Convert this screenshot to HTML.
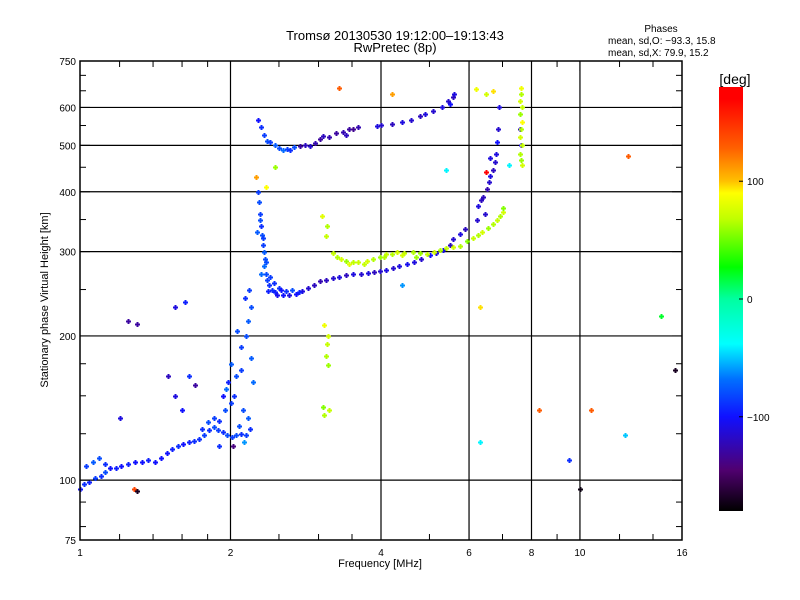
<!DOCTYPE html>
<html><head><meta charset="utf-8"><style>
body{margin:0;background:#fff}
svg{display:block;font-family:"Liberation Sans","DejaVu Sans",sans-serif}
</style></head><body>
<svg id="chart" width="800" height="600" viewBox="0 0 800 600" xmlns="http://www.w3.org/2000/svg">
<defs>
<linearGradient id="cmap" x1="0" y1="1" x2="0" y2="0">
<stop offset="0" stop-color="#000000"/>
<stop offset="0.097" stop-color="#500070"/>
<stop offset="0.222" stop-color="#1010ff"/>
<stop offset="0.311" stop-color="#0070ff"/>
<stop offset="0.394" stop-color="#00ffff"/>
<stop offset="0.5" stop-color="#00ffa0"/>
<stop offset="0.575" stop-color="#00ff00"/>
<stop offset="0.689" stop-color="#c0ff00"/>
<stop offset="0.75" stop-color="#ffff00"/>
<stop offset="0.778" stop-color="#ffc000"/>
<stop offset="0.856" stop-color="#ff6000"/>
<stop offset="0.972" stop-color="#ff0000"/>
<stop offset="1" stop-color="#ff0000"/>
</linearGradient>
</defs>
<text x="395" y="40" font-size="13" text-anchor="middle">Tromsø 20130530 19:12:00–19:13:43</text>
<text x="395" y="52" font-size="13" text-anchor="middle">RwPretec (8p)</text>
<text x="661" y="32" font-size="10" text-anchor="middle">Phases</text>
<text x="608" y="44" font-size="10">mean, sd,O: −93.3, 15.8</text>
<text x="608" y="56" font-size="10">mean, sd,X:  79.9, 15.2</text>
<g id="grid"></g>
<g id="marks"></g>
<rect x="80" y="61" width="602" height="479" fill="none" stroke="#000" stroke-width="1.5"/>
<g id="ticks"></g>
<text x="380" y="567" font-size="11" text-anchor="middle">Frequency [MHz]</text>
<text transform="translate(48,300) rotate(-90)" font-size="11" text-anchor="middle">Stationary phase Virtual Height [km]</text>
<rect x="719" y="87" width="24" height="424" fill="url(#cmap)"/>
<text x="735" y="84" font-size="14" text-anchor="middle">[deg]</text>
<g id="cbticks"></g>
</svg>
<script>
const xTicks=[1,2,4,6,8,10,16];
const yTicks=[75,100,200,300,400,500,600,750];
const xGrid=[2,4,6,8,10];
const yGrid=[100,200,300,400,500,600];
const yMinor=[80,90,125,150,175,250,350,450,550,650,700];
const cbTicks=[100,0,-100];
// O-mode trace: frequency (MHz), virtual height (km), phase (deg)
const oFreq=[1.0,1.02,1.04,1.07,1.1,1.12,1.03,1.06,1.09,1.12,1.15,1.18,1.21,1.25,1.29,1.33,1.37,1.41,1.45,1.49,1.53,1.57,1.61,1.65,1.69,1.73,1.77,1.81,1.85,1.89,1.93,1.97,2.01,2.05,2.1,2.15,
1.75,1.8,1.85,1.9,1.95,2.0,2.03,1.98,2.05,2.1,2.0,1.93,2.12,2.17,2.1,2.15,2.17,2.2,2.14,2.18,2.06,1.7,1.6,1.55,1.65,2.2,2.22,2.08,1.9,1.3,1.55,1.62,1.2,1.5,2.13,2.19,2.02,1.96,
2.27,2.28,2.29,2.3,2.31,2.32,2.33,2.34,2.33,2.35,2.37,2.39,2.42,2.45,2.3,2.36,2.4,2.44,2.5,2.38,2.26,2.29,2.32,
2.48,2.55,2.62,2.7,2.78,2.86,2.94,3.02,3.1,3.2,3.3,3.4,3.52,3.64,3.76,3.88,3.98,4.1,4.22,4.35,4.51,4.65,4.8,5.01,5.15,5.32,5.5,5.57,5.76,5.9,6.22,6.25,6.35,6.52,6.58,6.61,6.7,6.76,6.8,6.82,6.85,6.89,6.4,6.45,6.6,6.5,2.58,2.66,2.74,2.52,
2.27,2.3,2.33,2.37,2.4,2.45,2.5,2.55,2.59,2.63,2.68,2.75,2.82,2.88,2.95,3.02,3.06,3.15,3.25,3.36,3.45,3.52,3.4,3.6,3.92,4.0,4.2,4.4,4.6,4.78,4.9,5.08,5.3,5.5,5.57,5.6,5.45,7.6,7.62];
const oHeight=[96,98,99,101,102,104,107,109,111,108,106,106,107,108,109,109,110,109,111,114,116,118,119,120,121,122,124,127,129,127,126,124,123,124,125,124,
128,132,135,133,140,145,150,160,165,170,175,150,140,135,190,200,215,230,240,250,205,158,140,150,165,180,160,130,118,212,230,235,135,165,120,128,118,155,
400,380,360,340,325,310,300,290,280,270,262,255,250,247,270,285,265,258,252,248,330,350,320,
244,243,244,245,248,252,256,260,262,264,266,268,269,270,271,272,273,275,277,280,283,286,290,295,298,303,310,318,326,335,350,373,385,405,420,431,445,461,480,508,540,601,390,360,470,440,248,250,247,249,
565,545,525,510,508,500,493,490,491,488,495,498,502,498,505,515,523,520,530,533,540,541,525,545,548,552,555,559,566,575,582,590,600,610,630,640,620,540,500];
const oPhase=[-100,-90,-95,-85,-90,-80,-85,-75,-80,-90,-100,-95,-100,-95,-100,-100,-95,-100,-100,-100,-95,-90,-100,-95,-90,-90,-85,-90,-80,-85,-90,-80,-85,-80,-90,-85,
-90,-80,-85,-90,-80,-85,-90,-95,-80,-85,-75,-100,-80,-75,-85,-80,-75,-80,-90,-85,-80,-130,-100,-110,-90,-75,-70,-80,-90,-130,-110,-95,-110,-120,-60,-90,-140,-70,
-85,-80,-85,-90,-80,-85,-75,-80,-70,-80,-85,-90,-90,-95,-70,-80,-85,-90,-90,-95,-75,-80,-85,
-105,-100,-110,-100,-110,-115,-120,-125,-120,-115,-110,-120,-110,-115,-110,-120,-115,-110,-115,-110,-105,-110,-115,-100,-110,-105,-120,-115,-110,-120,-115,-110,-120,-125,-115,-110,-120,-115,-110,-100,-115,-110,-120,-115,-110,-115,-90,-80,-95,-100,
-100,-90,-85,-80,-85,-75,-80,-70,-85,-90,-80,-130,-120,-115,-125,-130,-120,-125,-130,-125,-130,-135,-120,-125,-110,-115,-120,-110,-115,-120,-110,-115,-110,-100,-120,-110,-115,-120,-110];
// X-mode trace
const xFreq=[3.2,3.26,3.32,3.4,3.52,3.6,3.75,3.85,3.98,4.1,4.2,4.31,4.45,4.63,4.78,4.94,5.1,5.25,5.4,5.57,5.76,5.95,6.11,6.25,6.38,6.55,6.71,6.82,6.92,7.02,7.0,3.45,3.7,4.05,4.4,4.7,
7.62,7.62,7.6,7.64,7.6,7.66,7.62,7.6,7.64,7.6,7.62,7.65,
3.05,3.12,3.1,3.08,3.14,3.12,3.1,3.13,3.06,3.08,3.15,6.2,6.5,6.7,4.2,2.45,2.35];
const xHeight=[298,293,290,287,286,285,287,289,293,296,297,299,298,299,298,297,300,303,305,307,308,315,321,325,329,336,342,350,356,363,370,282,283,292,295,293,
660,640,620,600,580,560,540,520,500,480,465,455,
356,340,324,211,200,192,182,174,142,137,140,657,640,650,640,450,410];
const xPhase=[70,65,75,60,68,72,75,65,60,70,66,75,70,65,60,70,75,65,70,75,65,55,70,65,75,60,65,70,65,75,55,80,70,65,75,60,
85,65,75,70,60,90,65,75,70,65,60,75,
80,65,70,85,75,70,65,60,55,65,70,85,75,95,110,60,90];
// isolated scattered points
const sFreq=[3.3,5.4,8.3,10.5,12.5,14.5,15.5,12.3,9.5,10.0,6.3,6.3,1.28,1.25,6.5,1.3,2.25,4.4,7.2];
const sHeight=[660,445,140,140,475,220,170,124,110,96,120,230,96,215,440,95,430,255,455];
const sPhase=[130,-40,130,130,130,20,-170,-50,-90,-175,-40,95,140,-130,175,-170,110,-60,-40];

const NS="http://www.w3.org/2000/svg";
const X0=80,X1=682,Y0=540,Y1=61;
function xs(f){return X0+(X1-X0)*Math.log2(f)/4;}
function ys(h){return Y0-(Y0-Y1)*Math.log10(h/75);}
function cmap(p){
 const st=[[-180,0,0,0],[-145,80,0,112],[-100,16,16,255],[-68,0,112,255],[-38,0,255,255],[0,0,255,160],[27,0,255,0],[68,192,255,0],[90,255,255,0],[100,255,192,0],[128,255,96,0],[170,255,0,0],[180,255,0,0]];
 p=Math.max(-180,Math.min(180,p));
 for(let i=0;i<st.length-1;i++){const a=st[i],b=st[i+1];if(p<=b[0]){const t=(p-a[0])/(b[0]-a[0]);return `rgb(${Math.round(a[1]+t*(b[1]-a[1]))},${Math.round(a[2]+t*(b[2]-a[2]))},${Math.round(a[3]+t*(b[3]-a[3]))})`;}}
 return "red";
}
function mk(tag,attrs,parent){const e=document.createElementNS(NS,tag);for(const k in attrs)e.setAttribute(k,attrs[k]);parent.appendChild(e);return e;}
const grid=document.getElementById('grid'),ticks=document.getElementById('ticks'),marks=document.getElementById('marks'),cbt=document.getElementById('cbticks');
xGrid.forEach(f=>{const l=mk('line',{x1:xs(f),x2:xs(f),y1:Y1,y2:Y0,stroke:'#000','stroke-width':1.2},grid);

});
yGrid.forEach(h=>{const l=mk('line',{x1:X0,x2:X1,y1:ys(h),y2:ys(h),stroke:'#000','stroke-width':1.2},grid);

});
xTicks.forEach(f=>{const t=mk('text',{x:xs(f),y:Y0+16,'font-size':10,'text-anchor':'middle'},ticks);t.textContent=f;

});
yTicks.forEach(h=>{const t=mk('text',{x:X0-4,y:ys(h)+4,'font-size':10,'text-anchor':'end'},ticks);t.textContent=h;


mk('line',{x1:X0,x2:X0+10,y1:ys(h),y2:ys(h),stroke:'#000'},ticks);mk('line',{x1:X1-10,x2:X1,y1:ys(h),y2:ys(h),stroke:'#000'},ticks);});
yMinor.forEach(h=>{mk('line',{x1:X0,x2:X0+6,y1:ys(h),y2:ys(h),stroke:'#000'},ticks);mk('line',{x1:X1-6,x2:X1,y1:ys(h),y2:ys(h),stroke:'#000'},ticks);});
[1.2,1.4,1.6,1.8,2.5,3,3.5,5,7,9,12,14].forEach(f=>{mk('line',{x1:xs(f),x2:xs(f),y1:Y1,y2:Y1+6,stroke:'#000'},ticks);mk('line',{x1:xs(f),x2:xs(f),y1:Y0-6,y2:Y0,stroke:'#000'},ticks);});
xTicks.forEach(f=>{mk('line',{x1:xs(f),x2:xs(f),y1:Y1,y2:Y1+10,stroke:'#000'},ticks);mk('line',{x1:xs(f),x2:xs(f),y1:Y0-10,y2:Y0,stroke:'#000'},ticks);});
function plot(F,H,P,name){
 for(let i=0;i<F.length;i++){
  const x=Math.round(xs(F[i])),y=Math.round(ys(H[i])),c=cmap(P[i]);
  const g=mk('path',{d:`M${x-2} ${y+0.5}h5M${x+0.5} ${y-2}v5`,stroke:c,'stroke-width':2,fill:'none'},marks);
  
  
 }
}
plot(oFreq,oHeight,oPhase,'o-mode-point');
plot(xFreq,xHeight,xPhase,'x-mode-point');
plot(sFreq,sHeight,sPhase,'scatter-point');
cbTicks.forEach(v=>{const y=511-(v+180)/360*424;
mk('line',{x1:739,x2:743,y1:y,y2:y,stroke:'#000'},cbt);
const t=mk('text',{x:747,y:y+4,'font-size':10},cbt);t.textContent=v===-100?'−100':v;

});
</script>
</body></html>
